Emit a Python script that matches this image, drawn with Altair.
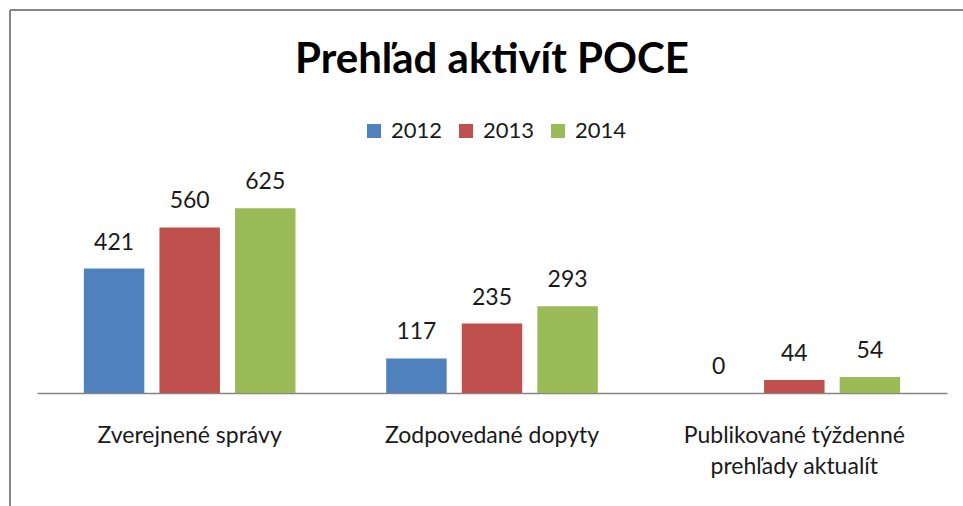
import altair as alt
import pandas as pd

categories = ["Zverejnené správy", "Zodpovedané dopyty", "Publikované týždenné prehľady aktualít"]
years = ["2012", "2013", "2014"]
v2012 = [421, 117, 0]
v2013 = [560, 235, 44]
v2014 = [625, 293, 54]
colors = ["#4F81BD", "#C0504D", "#9BBB59"]

rows = []
for i, c in enumerate(categories):
    for y, vals in zip(years, [v2012, v2013, v2014]):
        rows.append({"kategoria": c, "rok": y, "hodnota": vals[i]})
df = pd.DataFrame(rows)

FONT = "Lato"
TXT = "#1a1a1a"

x = alt.X("kategoria:N", sort=categories, title=None,
          scale=alt.Scale(paddingInner=0.3, paddingOuter=0.155),
          axis=alt.Axis(labelAngle=0, ticks=False, domainColor="#868686", domainWidth=1.5,
                        labelFont=FONT, labelFontSize=23, labelColor=TXT,
                        labelPadding=31, labelLineHeight=31, labelLimit=400,
                        labelExpr="datum.label == 'Publikované týždenné prehľady aktualít' ? ['Publikované týždenné', 'prehľady aktualít'] : datum.label"))
xo = alt.XOffset("rok:N", sort=years, scale=alt.Scale(paddingInner=0.2, paddingOuter=0))
y = alt.Y("hodnota:Q", scale=alt.Scale(domain=[0, 700]), axis=None)

base = alt.Chart(df)
bars = base.mark_bar().encode(
    x=x, xOffset=xo, y=y,
    color=alt.Color("rok:N", sort=years, scale=alt.Scale(domain=years, range=colors),
                    legend=alt.Legend(title=None, orient="none", direction="horizontal",
                                      legendX=326, legendY=-66, symbolType="square",
                                      symbolSize=196, symbolStrokeWidth=0,
                                      labelFont=FONT, labelFontSize=22, labelColor=TXT,
                                      columnPadding=12, labelOffset=6))
)
labels = base.mark_text(baseline="alphabetic", dy=-19, font=FONT, fontSize=23, color=TXT).encode(
    x=x, xOffset=xo, y=y, text="hodnota:Q"
)

one = pd.DataFrame({"a": [0]})
top_line = alt.Chart(one).mark_rule(color="#868686", strokeWidth=2).encode(
    x=alt.value(-27), x2=alt.value(940), y=alt.value(-176))
left_line = alt.Chart(one).mark_rule(color="#868686", strokeWidth=2).encode(
    x=alt.value(-27), y=alt.value(-176), y2=alt.value(330))

chart = alt.layer(top_line, left_line, bars, labels).properties(
    width=910, height=207,
    autosize=alt.AutoSizeParams(type="none"),
    padding={"left": 37, "top": 186, "right": 16, "bottom": 113},
    background="white",
    title=alt.TitleParams("Prehľad aktivít POCE", font=FONT, fontSize=42, fontWeight="bold",
                          color="#000000", anchor="middle", baseline="alphabetic", offset=-106),
).configure_view(strokeWidth=0, stroke="transparent")

chart.save("out.html", embed_options={"renderer": "svg", "actions": False})
